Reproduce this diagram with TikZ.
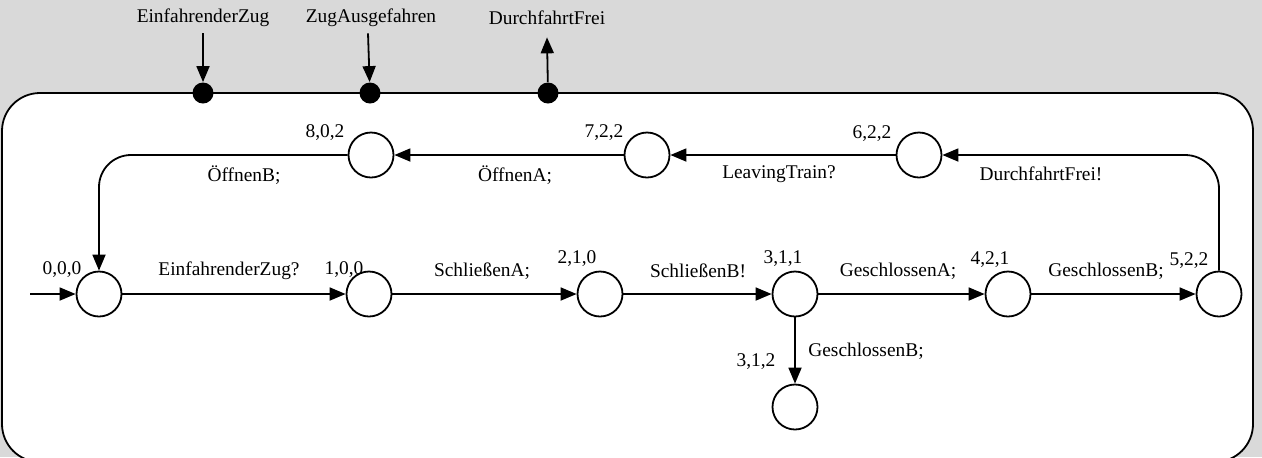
\documentclass[tikz,border=0pt]{standalone}
\usepackage{fontspec}
\setmainfont{Liberation Serif}
\usetikzlibrary{arrows.meta}
\definecolor{panelgray}{HTML}{D9D9D9}
\begin{document}
\begin{tikzpicture}[x=0.5pt,y=-0.5pt,
  font=\fontsize{9.7}{11}\selectfont,
  state/.style={circle,draw,line width=0.9pt,fill=white,minimum size=22.5pt,inner sep=0pt},
  port/.style={circle,fill=black,minimum size=10.5pt,inner sep=0pt},
  trans/.style={line width=0.9pt,-{Triangle[length=8pt,width=6.5pt]}},
  lbl/.style={inner sep=0pt}]
% background and component frame
\fill[panelgray] (0,0) rectangle (1262,457);
\useasboundingbox (0,0) rectangle (1262,457);
\begin{scope}
  \clip (0,0) rectangle (1262,457);
  \draw[fill=white,line width=0.9pt,rounded corners=19pt] (2,93) rectangle (1253,462);
\end{scope}

% interface ports
\node[port] (p1) at (203,93) {};
\node[port] (p2) at (370,93) {};
\node[port] (p3) at (548,93) {};
\node[lbl] (nEin) at (203,18) {EinfahrenderZug};
\node[lbl] (nZA)  at (371,18) {ZugAusgefahren};
\node[lbl] (nDF)  at (547,18) {DurchfahrtFrei};
\draw[trans] ([yshift=-3pt]nEin.south) -- (p1);
\draw[trans] ([xshift=-1.5pt,yshift=-3pt]nZA.south) -- (p2);
\draw[trans] (p3) -- ([yshift=-6pt]nDF.south);

% states
\node[state] (s0) at (99,294) {};
\node[state] (s1) at (369,294) {};
\node[state] (s2) at (600,294) {};
\node[state] (s3) at (795,294) {};
\node[state] (s4) at (1008,294) {};
\node[state] (s5) at (1219,294) {};
\node[state] (s312) at (795,407) {};
\node[state] (s6) at (919,155) {};
\node[state] (s7) at (647,155) {};
\node[state] (s8) at (371,155) {};

% state names
\node[lbl] at (62,270) {0,0,0};
\node[lbl] at (344,270) {1,0,0};
\node[lbl] at (577,259) {2,1,0};
\node[lbl] at (783,259) {3,1,1};
\node[lbl] at (990,260) {4,2,1};
\node[lbl] at (1189,261) {5,2,2};
\node[lbl] at (756,362) {3,1,2};
\node[lbl] at (325,133) {8,0,2};
\node[lbl] at (604,133) {7,2,2};
\node[lbl] at (872,134) {6,2,2};

% transitions
\coordinate (init) at (30,294);
\draw[trans] (init) -- (s0);
\draw[trans] (s0) -- (s1);
\draw[trans] (s1) -- (s2);
\draw[trans] (s2) -- (s3);
\draw[trans] (s3) -- (s4);
\draw[trans] (s4) -- (s5);
\draw[trans] (s3) -- (s312);
\draw[trans,rounded corners=17pt] (s5.north) |- (s6.east);
\draw[trans] (s6) -- (s7);
\draw[trans] (s7) -- (s8);
\draw[trans,rounded corners=16pt] (s8.west) -| (s0.north);

% transition labels
\node[lbl] at (229,271) {EinfahrenderZug?};
\node[lbl] at (482,271) {SchließenA;};
\node[lbl] at (698,271) {SchließenB!};
\node[lbl] at (898,271) {GeschlossenA;};
\node[lbl] at (1106,271) {GeschlossenB;};
\node[lbl] at (866,351) {GeschlossenB;};
\node[lbl] at (244,175) {ÖffnenB;};
\node[lbl] at (515,175) {ÖffnenA;};
\node[lbl] at (779,174) {LeavingTrain?};
\node[lbl] at (1041,174) {DurchfahrtFrei!};
\end{tikzpicture}
\end{document}
